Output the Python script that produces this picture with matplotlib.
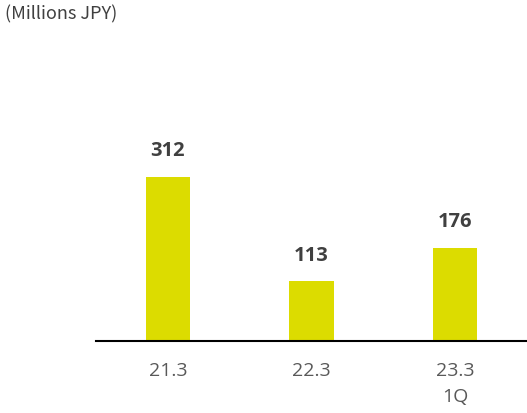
import matplotlib
matplotlib.use("Agg")
import matplotlib.pyplot as plt
import numpy as np

# data
periods = ["21.3", "22.3", "23.3\n1Q"]
values = [312, 113, 176]

bar_color = "#dcdc00"
fig = plt.figure(figsize=(5.27, 4.14), dpi=100)
ax = fig.add_axes([96 / 527, 72.5 / 414, 1 - 96 / 527, 210 / 414])

x = np.arange(len(periods))
bars = ax.bar(x, values, width=0.31, color=bar_color, zorder=2)

for b, v in zip(bars, values):
    ax.annotate(str(v), (b.get_x() + b.get_width() / 2, v),
                xytext=(0, 12), textcoords="offset points",
                ha="center", va="bottom", fontsize=14.5, fontweight="bold",
                family="Open Sans", color="#404040")

ax.set_xlim(-0.5, 2.5)
ax.set_ylim(0, 400)
ax.set_xticks(x)
ax.set_xticklabels(periods, family="Open Sans", fontsize=14, color="#595959",
                   linespacing=1.55)
ax.tick_params(axis="x", length=0, pad=15)
ax.set_yticks([])
for s in ["top", "left", "right"]:
    ax.spines[s].set_visible(False)
ax.spines["bottom"].set_linewidth(1.5)
ax.spines["bottom"].set_color("#000000")

fig.text(5 / 527, 1 - 14 / 414, "(Millions JPY)", family="Noto Sans CJK JP",
         fontsize=13, color="#404040", ha="left", va="center")

fig.savefig("out.png", dpi=100)
